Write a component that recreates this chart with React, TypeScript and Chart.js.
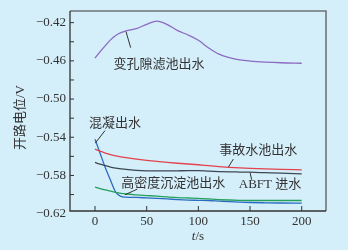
import React, { useEffect, useRef } from "react";
import { Chart, registerables } from "chart.js";

Chart.register(...registerables);

// time (s)
const timeS = [0, 5, 10, 15, 20, 25, 30, 40, 50, 60, 70, 80, 90, 100, 110, 120, 130, 140, 150, 165, 180, 200];

// open-circuit potential (V)
const porousFilter = [-0.4572, -0.4503, -0.444, -0.438, -0.4335, -0.4305, -0.4286, -0.4262, -0.4217, -0.4183, -0.422, -0.4283, -0.4329, -0.4385, -0.4465, -0.453, -0.4567, -0.459, -0.4602, -0.4613, -0.462, -0.4625];
const accidentPool = [-0.5524, -0.5545, -0.5565, -0.5582, -0.5596, -0.5605, -0.5613, -0.5628, -0.5641, -0.5653, -0.5663, -0.5672, -0.568, -0.5688, -0.5698, -0.5707, -0.5715, -0.5721, -0.5726, -0.5732, -0.5737, -0.5741];
const abftInflow = [-0.5664, -0.5682, -0.5698, -0.5712, -0.5722, -0.573, -0.5737, -0.5746, -0.5751, -0.5752, -0.5752, -0.5751, -0.575, -0.575, -0.5755, -0.5759, -0.5762, -0.5764, -0.5766, -0.5771, -0.5776, -0.5783];
const coagulation = [-0.542, -0.557, -0.572, -0.585, -0.5975, -0.6018, -0.6027, -0.603, -0.6035, -0.604, -0.6046, -0.6053, -0.6058, -0.606, -0.6062, -0.6068, -0.6074, -0.6079, -0.6083, -0.6086, -0.6088, -0.6089];
const sedimentation = [-0.5922, -0.5937, -0.5952, -0.5965, -0.5977, -0.5987, -0.5994, -0.6003, -0.601, -0.6017, -0.6025, -0.6032, -0.6036, -0.6039, -0.6046, -0.6052, -0.6057, -0.606, -0.6062, -0.6062, -0.6062, -0.6062];

const xTicks = [0, 50, 100, 150, 200];
const yTicks = [-0.62, -0.6, -0.58, -0.56, -0.54, -0.52, -0.5, -0.48, -0.46, -0.44, -0.42];
const yLabeled = [-0.62, -0.58, -0.54, -0.5, -0.46, -0.42];

const yTitle = "开路电位/V";

// annotation labels: text, centre (t, V), leader from (t, V) to (t, V)
const labelTexts = ["变孔隙滤池出水", "混凝出水", "事故水池出水", "ABFT 进水", "高密度沉淀池出水"];
const labelAt = [[61.9, -0.4635], [19.4, -0.5252], [158, -0.5539], [169.3, -0.5898], [75.7, -0.5882]];
const leaderFrom = [[30.0, -0.4294], [0.2, -0.5462], [129, -0.5713], [150, -0.5769], [29, -0.6002]];
const leaderTo = [[34.5, -0.4462], [9.7, -0.533], [133.8, -0.5629], [151.6, -0.5845], [40.9, -0.5943]];

const BG = "#d4eefa";
const SERIF = '"Liberation Serif", "Times New Roman", serif';
const CJK = '"Liberation Serif", "Noto Sans CJK SC", serif';

const fmt = (v: number) => v.toFixed(2).replace("-", "\u2212");

const decor = {
  id: "decor",
  beforeDraw(chart: any) {
    const { ctx, width, height } = chart;
    ctx.save();
    ctx.fillStyle = BG;
    ctx.fillRect(0, 0, width, height);
    ctx.restore();
  },
  afterDraw(chart: any) {
    const { ctx, chartArea: a } = chart;
    const xs = chart.scales.x;
    const ys = chart.scales.y;
    ctx.save();
    // frame top/right
    ctx.strokeStyle = "#6e7478";
    ctx.lineWidth = 1.6;
    ctx.beginPath();
    ctx.moveTo(a.left, a.top);
    ctx.lineTo(a.right, a.top);
    ctx.lineTo(a.right, a.bottom);
    ctx.stroke();
    // axes left/bottom
    ctx.strokeStyle = "#333";
    ctx.lineWidth = 1.3;
    ctx.beginPath();
    ctx.moveTo(a.left, a.top);
    ctx.lineTo(a.left, a.bottom);
    ctx.lineTo(a.right, a.bottom);
    ctx.stroke();
    // inner ticks
    ctx.lineWidth = 1;
    ctx.beginPath();
    yTicks.forEach((v) => {
      const py = ys.getPixelForValue(v);
      if (py < a.top || py > a.bottom - 1) return;
      ctx.moveTo(a.left, py);
      ctx.lineTo(a.left + 4, py);
    });
    xTicks.forEach((v) => {
      const px = xs.getPixelForValue(v);
      ctx.moveTo(px, a.bottom);
      ctx.lineTo(px, a.bottom - 5);
    });
    ctx.stroke();

    // annotations
    ctx.fillStyle = "#333";
    ctx.strokeStyle = "#333";
    ctx.lineWidth = 1;
    ctx.font = `13px ${CJK}`;
    ctx.textAlign = "center";
    ctx.textBaseline = "middle";
    labelTexts.forEach((t, i) => {
      ctx.fillText(t, xs.getPixelForValue(labelAt[i][0]), ys.getPixelForValue(labelAt[i][1]));
      ctx.beginPath();
      ctx.moveTo(xs.getPixelForValue(leaderFrom[i][0]), ys.getPixelForValue(leaderFrom[i][1]));
      ctx.lineTo(xs.getPixelForValue(leaderTo[i][0]), ys.getPixelForValue(leaderTo[i][1]));
      ctx.stroke();
    });

    // y title
    ctx.save();
    ctx.translate(20.5, (a.top + a.bottom) / 2 + 6.5);
    ctx.rotate(-Math.PI / 2);
    ctx.font = `13px ${CJK}`;
    ctx.fillText(yTitle, 0, 0);
    ctx.restore();

    // x title t/s
    const cx = (a.left + a.right) / 2;
    const cy = 237;
    ctx.font = `italic 13px ${SERIF}`;
    const wt = ctx.measureText("t").width;
    ctx.font = `13px ${SERIF}`;
    const ws = ctx.measureText("/s").width;
    const start = cx - (wt + ws) / 2;
    ctx.textAlign = "left";
    ctx.font = `italic 13px ${SERIF}`;
    ctx.fillText("t", start, cy);
    ctx.font = `13px ${SERIF}`;
    ctx.fillText("/s", start + wt, cy);
    ctx.restore();
  },
};

export default function App() {
  const ref = useRef<HTMLCanvasElement | null>(null);
  useEffect(() => {
    document.body.style.margin = "0";
    document.body.style.background = BG;
    const mk = (vals: number[], color: string) => ({
      data: timeS.map((t, i) => ({ x: t, y: vals[i] })),
      borderColor: color,
      borderWidth: 1.3,
      pointRadius: 0,
      cubicInterpolationMode: "monotone" as const,
      fill: false,
    });
    const chart = new Chart(ref.current!, {
      type: "line",
      data: {
        datasets: [
          mk(porousFilter, "#8c6bc2"),
          mk(accidentPool, "#e2434e"),
          mk(abftInflow, "#3d4852"),
          mk(sedimentation, "#24a05c"),
          mk(coagulation, "#2b6cc0"),
        ],
      },
      options: {
        responsive: false,
        animation: false,
        layout: { padding: { top: 11, right: 22, left: 0, bottom: 0 } },
        plugins: { legend: { display: false }, tooltip: { enabled: false } },
        scales: {
          x: {
            type: "linear",
            min: -24.2,
            max: 223.5,
            grid: { display: false, drawTicks: false },
            border: { display: false },
            afterBuildTicks: (s: any) => {
              s.ticks = xTicks.map((v) => ({ value: v }));
            },
            afterFit: (s: any) => {
              s.height = 39;
              s.paddingLeft = 0;
              s.paddingRight = 0;
            },
            ticks: {
              autoSkip: false,
              maxRotation: 0,
              padding: 3,
              color: "#333",
              font: { family: SERIF, size: 13 },
              callback: (v: any) => String(v),
            },
          },
          y: {
            type: "linear",
            min: -0.6172,
            max: -0.4078,
            grid: { display: false, drawTicks: false },
            border: { display: false },
            afterBuildTicks: (s: any) => {
              s.ticks = yTicks.map((v) => ({ value: v }));
            },
            afterFit: (s: any) => {
              s.width = 70;
              s.paddingTop = 0;
              s.paddingBottom = 0;
            },
            ticks: {
              autoSkip: false,
              padding: 4,
              color: "#333",
              font: { family: SERIF, size: 13 },
              callback: (v: any) => {
                const n = Number(v);
                return yLabeled.some((m) => Math.abs(m - n) < 1e-6) ? fmt(n) : "";
              },
            },
          },
        },
      },
      plugins: [decor],
    });
    return () => chart.destroy();
  }, []);
  return <canvas ref={ref} width={348} height={250} style={{ display: "block" }} />;
}
